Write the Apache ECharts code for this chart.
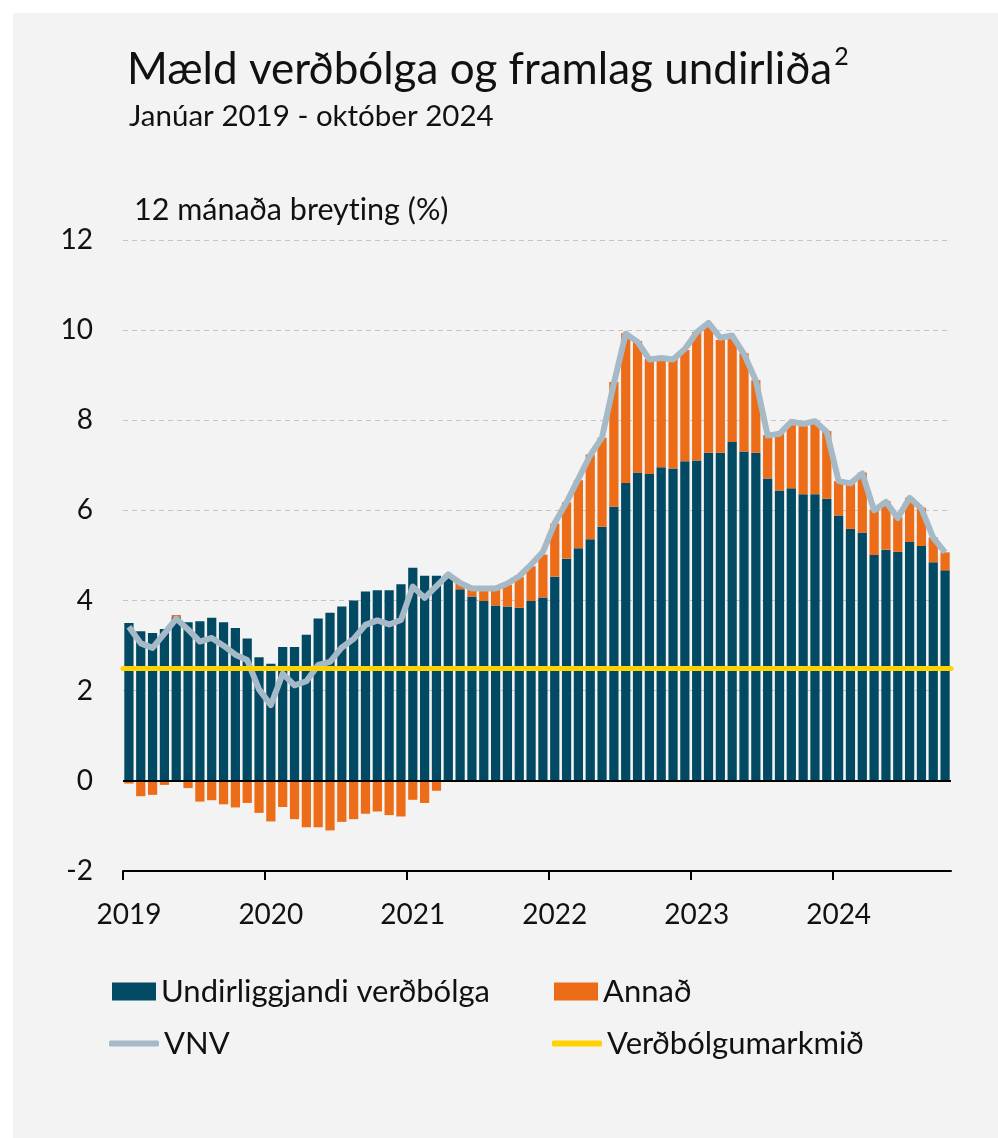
<!DOCTYPE html>
<html>
<head>
<meta charset="utf-8">
<script src="https://cdn.jsdelivr.net/npm/echarts@6/dist/echarts.min.js"></script>
<style>
html, body { margin: 0; padding: 0; background: #fff; }
#chart { width: 998px; height: 1138px; }
</style>
</head>
<body>
<div id="chart"></div>
<script>
// 12 mánaða breyting (%), janúar 2019 - október 2024
var years = ['2019', '2020', '2021', '2022', '2023', '2024'];
var yearTicks = [0, 12, 24, 36, 48, 60]; // mánaðarnúmer þar sem ár byrjar

var underlying = [
	3.50, 3.32, 3.28, 3.37, 3.63, 3.52, 3.54, 3.62, 3.52, 3.39, 3.16, 2.74,
	2.60, 2.97, 2.97, 3.24, 3.60, 3.73, 3.87, 4.00, 4.20, 4.23, 4.23, 4.36,
	4.73, 4.55, 4.55, 4.50, 4.25, 4.09, 3.99, 3.89, 3.87, 3.84, 3.99, 4.07,
	4.53, 4.93, 5.16, 5.36, 5.64, 6.08, 6.61, 6.84, 6.81, 6.96, 6.93, 7.09,
	7.11, 7.28, 7.28, 7.52, 7.31, 7.28, 6.71, 6.44, 6.49, 6.36, 6.36, 6.26,
	5.89, 5.59, 5.51, 5.01, 5.13, 5.08, 5.30, 5.21, 4.85, 4.67
];

var other = [
	-0.06, -0.34, -0.31, -0.09, 0.05, -0.16, -0.46, -0.43, -0.52, -0.59, -0.49, -0.71,
	-0.90, -0.58, -0.85, -1.03, -1.03, -1.10, -0.91, -0.85, -0.73, -0.68, -0.76, -0.79,
	-0.42, -0.49, -0.22, 0.08, 0.14, 0.15, 0.24, 0.35, 0.48, 0.68, 0.77, 0.95,
	1.18, 1.25, 1.51, 1.88, 1.97, 2.77, 3.32, 2.92, 2.55, 2.45, 2.44, 2.47,
	2.85, 2.85, 2.50, 2.29, 2.18, 1.61, 0.96, 1.27, 1.40, 1.51, 1.59, 1.50,
	0.76, 1.01, 1.33, 1.01, 1.08, 0.77, 0.98, 0.85, 0.55, 0.40
];

var vnv = [
	3.42, 3.05, 2.95, 3.27, 3.60, 3.36, 3.09, 3.17, 3.00, 2.80, 2.68, 2.03,
	1.68, 2.38, 2.12, 2.21, 2.57, 2.64, 2.96, 3.15, 3.46, 3.56, 3.47, 3.57,
	4.31, 4.06, 4.32, 4.58, 4.39, 4.27, 4.27, 4.27, 4.38, 4.54, 4.80, 5.08,
	5.72, 6.18, 6.70, 7.22, 7.62, 8.82, 9.92, 9.74, 9.35, 9.38, 9.35, 9.58,
	9.95, 10.16, 9.83, 9.88, 9.47, 8.88, 7.66, 7.70, 7.97, 7.92, 7.98, 7.74,
	6.65, 6.60, 6.82, 6.00, 6.19, 5.83, 6.28, 6.04, 5.39, 5.07
];

var target = 2.5; // verðbólgumarkmið

var months = [];
for (var i = 0; i < underlying.length; i++) {
	months.push(years[Math.floor(i / 12)] + '-' + (i % 12 + 1));
}

var font = 'Lato';
var ink = '#111111';
var legendText = { fontSize: 31, color: ink, fontFamily: font };

var option = {
	backgroundColor: '#ffffff',
	animation: false,
	textStyle: { fontFamily: font, color: ink },
	graphic: [{
		type: 'rect',
		z: -10,
		shape: { x: 13, y: 13, width: 985, height: 1125 },
		style: { fill: '#f3f3f3' }
	}],
	title: [
		{
			text: '{m|Mæld verðbólga og framlag undirliða}{s|2}',
			left: 122, top: 39,
			textStyle: {
				fontWeight: 'normal',
				rich: {
					m: { fontFamily: font, fontSize: 44, fontWeight: 'normal', color: ink, lineHeight: 52 },
					s: { fontFamily: font, fontSize: 25, fontWeight: 'normal', color: ink, verticalAlign: 'top', lineHeight: 52, padding: [0, 0, 16, 2] }
				}
			}
		},
		{
			text: 'Janúar 2019 - október 2024',
			left: 124, top: 96,
			textStyle: { fontFamily: font, fontSize: 29.5, fontWeight: 'normal', color: ink }
		},
		{
			// \u200C stoppar "ti" samtengingu í Lato
			text: '12 mánaða breyt\u200Cing (%)',
			left: 129, top: 190,
			textStyle: { fontFamily: font, fontSize: 30.5, fontWeight: 'normal', color: ink }
		}
	],
	grid: { left: 123, right: 47, top: 240, bottom: 267 },
	xAxis: [
		{
			type: 'category',
			data: months,
			position: 'bottom',
			axisLine: { onZero: false, lineStyle: { color: '#000', width: 2 } },
			axisTick: { show: false },
			axisLabel: {
				interval: 11, margin: 30, fontSize: 28, color: ink, fontFamily: font,
				formatter: function (v) { return v.slice(0, 4); }
			},
			splitLine: { show: false }
		},
		{
			// bara fyrir árs-merkin á ásnum
			type: 'value',
			position: 'bottom',
			min: 0, max: months.length,
			axisLine: { show: false, onZero: false },
			axisTick: { show: true, customValues: yearTicks, length: 9, lineStyle: { color: '#000', width: 2 } },
			axisLabel: { show: false },
			splitLine: { show: false }
		}
	],
	yAxis: {
		type: 'value',
		min: -2, max: 12, interval: 2,
		axisLine: { show: false },
		axisTick: { show: false },
		axisLabel: { margin: 30, fontSize: 28, color: ink, fontFamily: font },
		splitLine: { lineStyle: { color: '#c4c4c4', width: 1, type: [5, 4] } }
	},
	legend: [
		{ data: [{ name: 'Undirliggjandi verðbólga', icon: 'rect' }], left: 107, top: 971, itemWidth: 44, itemHeight: 18, selectedMode: false, textStyle: legendText },
		{ data: [{ name: 'Annað', icon: 'rect' }], left: 549, top: 971, itemWidth: 44, itemHeight: 18, selectedMode: false, textStyle: legendText },
		{ data: [{ name: 'VNV', icon: 'roundRect' }], left: 104, top: 1023, itemWidth: 50, itemHeight: 6, selectedMode: false, textStyle: legendText },
		{ data: [{ name: 'Verðbólgumarkmið', icon: 'roundRect' }], left: 547, top: 1023, itemWidth: 50, itemHeight: 6, selectedMode: false, textStyle: legendText }
	],
	series: [
		{
			name: 'Undirliggjandi verðbólga',
			type: 'bar',
			stack: 'vnv',
			data: underlying,
			barCategoryGap: '22%',
			itemStyle: { color: '#024a63' }
		},
		{
			name: 'Annað',
			type: 'bar',
			stack: 'vnv',
			data: other,
			itemStyle: { color: '#ec6c17' },
			markLine: {
				silent: true, symbol: 'none',
				label: { show: false },
				lineStyle: { color: '#000', width: 2, type: 'solid' },
				data: [{ yAxis: 0 }]
			}
		},
		{
			name: 'Verðbólgumarkmið',
			type: 'line',
			data: [],
			itemStyle: { color: '#ffd200' },
			lineStyle: { color: '#ffd200', width: 5 },
			markLine: {
				silent: true, symbol: 'none',
				label: { show: false },
				lineStyle: { color: '#ffd200', width: 5, type: 'solid', cap: 'round' },
				data: [{ yAxis: target }]
			}
		},
		{
			name: 'VNV',
			type: 'line',
			data: vnv,
			symbol: 'none',
			z: 4,
			itemStyle: { color: '#a5b9c6' },
			lineStyle: { color: '#a5b9c6', width: 6, join: 'round' }
		}
	]
};

var chart = echarts.init(document.getElementById('chart'));
chart.setOption(option);
</script>
</body>
</html>
